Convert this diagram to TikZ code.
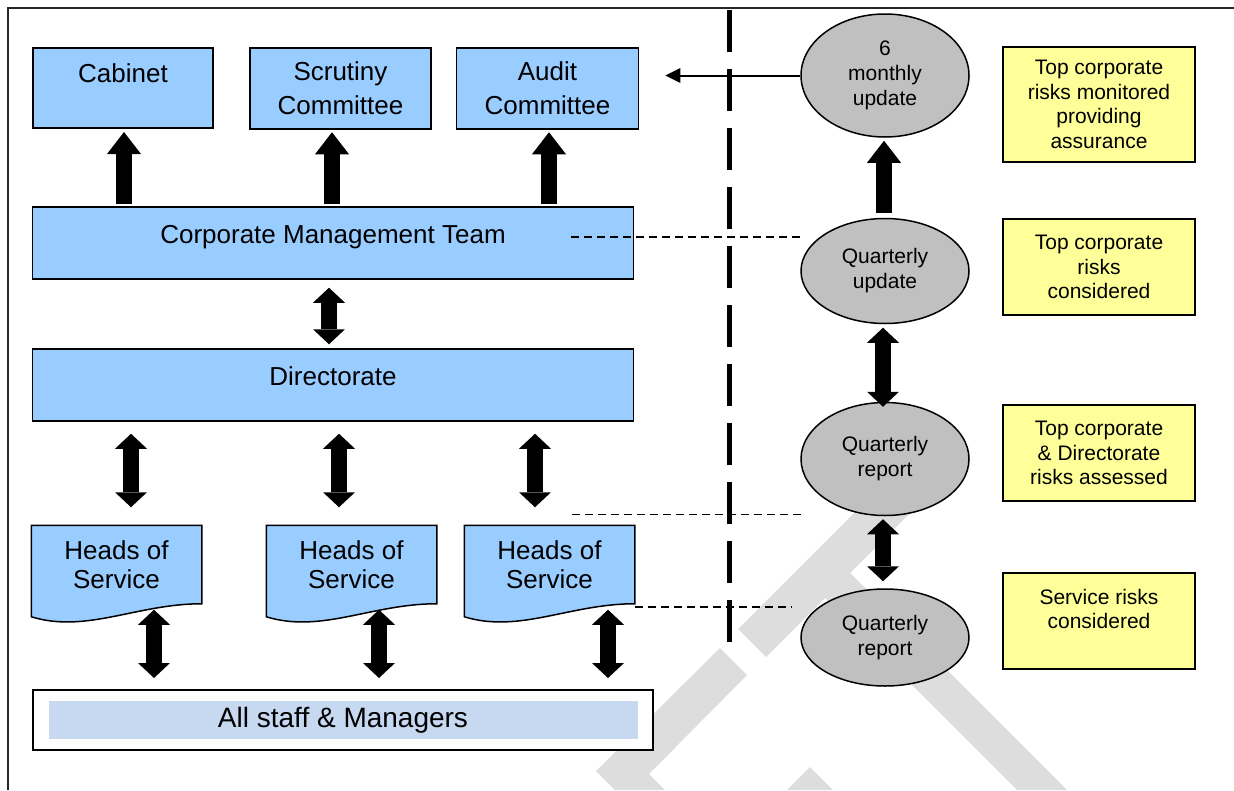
\documentclass[tikz,border=0pt]{standalone}
\usepackage{fontspec}
\setmainfont{Liberation Sans}
\usetikzlibrary{arrows.meta,calc,shapes.geometric,backgrounds}
\definecolor{boxblue}{RGB}{153,204,255}
\definecolor{staffblue}{RGB}{198,217,241}
\definecolor{ovalgrey}{RGB}{192,192,192}
\definecolor{noteyellow}{RGB}{255,255,153}
\definecolor{markgrey}{RGB}{221,221,221}
\begin{document}
\begin{tikzpicture}[x=1pt,y=-1pt,
 bluebox/.style={draw,line width=1.5pt,fill=boxblue,align=center,inner sep=0pt,font=\fontsize{26}{30}\selectfont},
 oval/.style={ellipse,draw,line width=1.5pt,fill=ovalgrey,align=center,inner sep=0pt,minimum width=168pt,font=\fontsize{21}{25}\selectfont},
 note/.style={draw,line width=2pt,fill=noteyellow,align=center,inner sep=0pt,minimum width=192pt,minimum height=96pt,font=\fontsize{21}{24.5}\selectfont},
 uparrow/.style={line width=16pt,-{Triangle[length=22pt,width=34pt,line width=0pt]}},
 dblarrow/.style={line width=16pt,{Triangle[length=15pt,width=32pt,line width=0pt]}-{Triangle[length=15pt,width=32pt,line width=0pt]}},
 linkdash/.style={line width=1.5pt,dash pattern=on 8pt off 5pt},
 divider/.style={line width=5pt,dash pattern=on 42pt off 17pt}]
\useasboundingbox (0,0) rectangle (1234,790);
% frame and divider
\draw[line width=2pt,black!85] (1234,8) -- (7.5,8) -- (7.5,790);
\draw[divider] (729,10) -- (729,642);
% committees
\node[bluebox,line width=2pt,minimum width=180pt,minimum height=80pt,text height=10pt,text depth=20pt] (cab) at (123,87.5) {Cabinet};
\node[bluebox,minimum width=181pt,minimum height=81pt,font=\fontsize{26}{34}\selectfont] (scr) at (340.5,88.5) {Scrutiny\\Committee};
\node[bluebox,minimum width=182pt,minimum height=81pt,font=\fontsize{26}{34}\selectfont] (aud) at (547.5,88.5) {Audit\\Committee};
\node[bluebox,minimum width=601pt,minimum height=72pt,text height=10pt,text depth=10pt] (cmt) at (333,243) {Corporate Management Team};
\node[bluebox,minimum width=601pt,minimum height=72pt,text height=10pt,text depth=10pt] (dir) at (333,385) {Directorate};
\node[bluebox,draw=none,fill=none,minimum width=169pt,minimum height=77pt,font=\fontsize{26}{29.5}\selectfont] (hos1) at (116.5,564.5) {Heads of\\Service};
\node[bluebox,draw=none,fill=none,minimum width=169pt,minimum height=77pt,font=\fontsize{26}{29.5}\selectfont] (hos2) at (351.5,564.5) {Heads of\\Service};
\node[bluebox,draw=none,fill=none,minimum width=169pt,minimum height=77pt,font=\fontsize{26}{29.5}\selectfont] (hos3) at (549.5,564.5) {Heads of\\Service};
\node[draw,line width=2pt,fill=white,minimum width=620pt,minimum height=60pt,inner sep=0pt,font=\fontsize{28}{32}\selectfont,
 path picture={\fill[staffblue] ([xshift=16pt,yshift=-11pt]path picture bounding box.north west) rectangle ([xshift=-15pt,yshift=11pt]path picture bounding box.south east);}] (staff) at (343,720) {All staff \& Managers};
% reporting cycle
\node[oval,minimum height=123pt] (six) at (885,75.5) {6\\monthly\\update};
\node[oval,minimum height=105pt] (qu) at (885,271) {Quarterly\\update};
\node[oval,minimum height=113pt] (qr1) at (885,459) {Quarterly\\report};
\node[oval,minimum height=97pt] (qr2) at (885,637.5) {Quarterly\\report};
\node[note,minimum height=115pt] (nt1) at (1099,104.5) {Top corporate\\risks monitored\\providing\\assurance};
\node[note] (nt2) at (1099,267) {Top corporate\\risks\\considered};
\node[note] (nt3) at (1099,453) {Top corporate\\\& Directorate\\risks assessed};
\node[note] (nt4) at (1099,621) {Service risks\\considered\\\mbox{}};
% block arrows
\draw[uparrow] ($(cab.south |- cmt.north)+(1,-2)$) -- ($(cab.south)+(1,3.5)$);
\draw[uparrow] ($(scr.south |- cmt.north)+(-8.5,-2)$) -- ($(scr.south)+(-8.5,2.5)$);
\draw[uparrow] ($(aud.south |- cmt.north)+(1.5,-2)$) -- ($(aud.south)+(1.5,2.5)$);
\draw[dblarrow] ($(cmt.south)+(-4,8)$) -- ($(dir.north)+(-4,-4)$);
\draw[dblarrow] ($(dir.south -| hos1.north)+(14.5,12)$) -- ($(hos1.north)+(14.5,-18)$);
\draw[dblarrow] ($(dir.south -| hos2.north)+(-12.5,12)$) -- ($(hos2.north)+(-12.5,-18)$);
\draw[dblarrow] ($(dir.south -| hos3.north)+(-14.5,12)$) -- ($(hos3.north)+(-14.5,-18)$);
\draw[dblarrow] ($(hos1.south)+(37.5,6)$) -- ($(hos1.south |- staff.north)+(37.5,-11)$);
\draw[dblarrow] ($(hos2.south)+(27.5,6)$) -- ($(hos2.south |- staff.north)+(27.5,-11)$);
\draw[dblarrow] ($(hos3.south)+(58.5,6)$) -- ($(hos3.south |- staff.north)+(58.5,-11)$);
\draw[uparrow] ($(qu.north)+(-1,-4.5)$) -- ($(six.south)+(-1,3)$);
\draw[dblarrow] ($(qu.south)+(-2,3.5)$) -- ($(qr1.north)+(-2,5)$);
\draw[dblarrow] ($(qr1.south)+(-2,3)$) -- ($(qr2.north)+(-2,-7)$);
% links across the divider
\draw[line width=2pt,-{Triangle[length=15pt,width=15pt,line width=0pt]}] (six.west) -- ($(six.west -| aud.east)+(26,0)$);
\draw[linkdash] ($(cmt.east)+(-63,-6)$) -- ($(cmt.east -| qu.west)+(0,-6)$);
\draw[linkdash] ($(hos3.north east)+(-63,-11)$) -- ($(hos3.north east -| qr1.west)+(2,-11)$);
\draw[linkdash] ($(hos3.south east)+(0,3)$) -- ($(hos3.south east -| qr2.west)+(-9,3)$);
% watermark and document shapes
\begin{scope}[on background layer]
\fill[markgrey] (720,648) -- (747,675) -- (649,774) -- (665,790) -- (615,790) -- (596,771) -- cycle;
\fill[markgrey] (738,629) -- (920,447) -- (948,475) -- (850,573) -- (1067,790) -- (1017,790) -- (825,598) -- (766,657) -- cycle;
\fill[markgrey] (787,790) -- (810,767) -- (833,790) -- cycle;
\foreach \h in {hos1,hos2,hos3}
 \draw[line width=1.5pt,fill=boxblue] (\h.south east) -- (\h.north east) -- (\h.north west) -- ($(\h.south west)+(0,13)$)
  .. controls ($(\h.south west)+(55,30)$) and ($(\h.south east)+(-65,0)$) .. (\h.south east) -- cycle;
\end{scope}
\end{tikzpicture}
\end{document}
